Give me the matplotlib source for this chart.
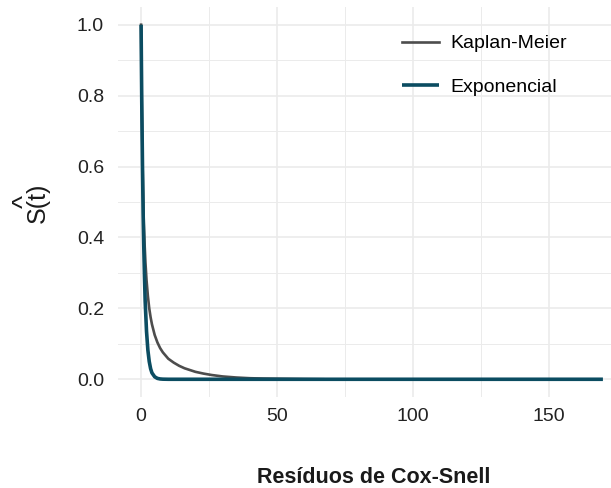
import numpy as np
import matplotlib
matplotlib.use("Agg")
import matplotlib.pyplot as plt
from matplotlib.ticker import MultipleLocator

plt.rcParams['font.family'] = ['Liberation Sans', 'DejaVu Sans']

# Kaplan-Meier estimate of the Cox-Snell residuals
km_t = [0, 0.05, 0.1, 0.2, 0.3, 0.5, 0.7, 1.0, 1.3, 1.6, 2.0, 2.5, 3.0, 3.5, 4.0,
        5.0, 6.0, 7.0, 8.0, 10, 12, 14, 16, 18, 20, 23, 26, 30, 35, 40, 45, 50,
        55, 60, 67]
km_s = [1.0, 0.95, 0.90, 0.82, 0.75, 0.63, 0.54, 0.44, 0.38, 0.33, 0.28, 0.235,
        0.20, 0.175, 0.155, 0.125, 0.104, 0.088, 0.076, 0.058, 0.047, 0.038,
        0.031, 0.026, 0.021, 0.016, 0.012, 0.008, 0.005, 0.003, 0.002, 0.0015,
        0.001, 0.0005, 0.0]

# fitted exponential survival
exp_t = [0, 0.1, 0.25, 0.5, 0.75, 1.0, 1.25, 1.5, 2.0, 2.5, 3.0, 3.5, 4.0, 5.0,
         6.0, 7.0, 8.0, 10, 170]
exp_s = [1.0, 0.905, 0.78, 0.61, 0.47, 0.37, 0.29, 0.22, 0.135, 0.082, 0.05,
         0.03, 0.018, 0.007, 0.0025, 0.0009, 0.0003, 0.0, 0.0]

fig = plt.figure(figsize=(6.11, 4.88), dpi=100)
W, H = 611, 488
ax = fig.add_axes([118 / W, (H - 397) / H, (626 - 118) / W, (397 - 7) / H])

ax.plot(km_t, km_s, color='#4d4d4d', lw=1.9, label='Kaplan-Meier')
ax.plot(exp_t, exp_s, color='#0b4c61', lw=2.6, label='Exponencial',
        solid_capstyle='butt')

ax.set_xlim(-8.5, 178.5)
ax.set_ylim(-0.05, 1.05)
ax.xaxis.set_major_locator(MultipleLocator(50))
ax.xaxis.set_minor_locator(MultipleLocator(25))
ax.yaxis.set_major_locator(MultipleLocator(0.2))
ax.yaxis.set_minor_locator(MultipleLocator(0.1))
ax.set_yticklabels([f'{v:.1f}' for v in ax.get_yticks()])

ax.grid(which='major', color='#ebebeb', lw=1.2)
ax.grid(which='minor', color='#ebebeb', lw=0.7)
ax.set_axisbelow(True)
for s in ax.spines.values():
    s.set_visible(False)
ax.tick_params(which='both', length=0, labelsize=14, colors='#222222')
ax.tick_params(axis='y', pad=10)
ax.tick_params(axis='x', pad=8)

# axis titles
ax.set_xlabel('Resíduos de Cox-Snell', fontsize=15.5, fontweight='bold',
              color='#1a1a1a')
ax.xaxis.set_label_coords((374 - 118) / (626 - 118), -(483 - 397) / (397 - 7))
ax.xaxis.label.set_va('baseline')
ax.set_ylabel('S(t)', fontsize=18, color='#1a1a1a')
ax.yaxis.set_label_coords(-(118 - 38) / (626 - 118), (397 - 203) / (397 - 7))
ax.yaxis.label.set_va('center')
fig.text(25 / W, 1 - 201 / H, '^', rotation=90, fontsize=20, color='#1a1a1a',
         ha='center', va='center')

fig.legend(loc='upper left', bbox_to_anchor=(392 / W, (H - 25) / H),
           frameon=False, fontsize=14, handlelength=1.9, handletextpad=0.62,
           labelspacing=1.35, borderpad=0)

fig.savefig('out.png', dpi=100)
